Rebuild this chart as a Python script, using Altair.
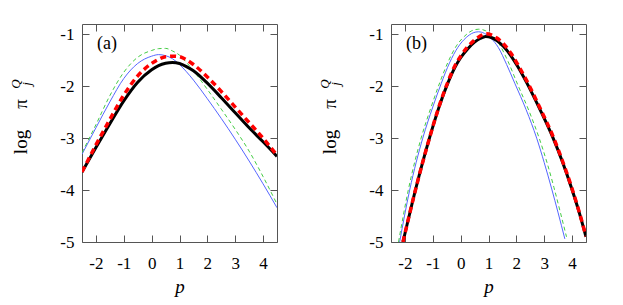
import altair as alt
import pandas as pd

FONT = "'Liberation Serif', 'Times New Roman', Times, serif"

# ---------------- Panel (a) ----------------
P_A = [-2.5, -2.0, -1.5, -1.0, -0.5, 0.0, 0.25, 0.5, 0.75, 1.0, 1.25, 1.5, 2.0, 2.5, 3.0, 3.5, 4.0, 4.5]
A_BLACK = [-3.65, -3.18, -2.72, -2.28, -1.92, -1.68, -1.60, -1.555, -1.54, -1.56, -1.62, -1.70, -1.94, -2.22, -2.51, -2.80, -3.07, -3.35]
A_RED = [-3.65, -3.13, -2.64, -2.17, -1.80, -1.56, -1.48, -1.43, -1.42, -1.43, -1.49, -1.58, -1.82, -2.10, -2.40, -2.70, -3.00, -3.33]
A_BLUE = [-3.31, -2.80, -2.30, -1.85, -1.56, -1.42, -1.39, -1.41, -1.47, -1.58, -1.72, -1.88, -2.24, -2.62, -3.02, -3.44, -3.88, -4.34]
A_GREEN = [-3.28, -2.74, -2.18, -1.73, -1.44, -1.31, -1.275, -1.27, -1.32, -1.40, -1.54, -1.70, -2.06, -2.44, -2.83, -3.25, -3.74, -4.27]

# ---------------- Panel (b) ----------------
B_BLACK_P = [-2.07, -1.6, -1.12, -0.8, -0.46, -0.2, 0.0, 0.25, 0.5, 0.7, 0.9, 1.1, 1.3, 1.55, 1.8, 2.05, 2.37, 2.85, 3.32, 3.65, 3.98, 4.25, 4.5]
B_BLACK_V = [-5.0, -3.95, -3.0, -2.44, -1.94, -1.63, -1.45, -1.28, -1.15, -1.08, -1.04, -1.06, -1.12, -1.24, -1.41, -1.62, -1.93, -2.45, -3.0, -3.45, -3.96, -4.42, -4.9]
B_RED_V = [-5.0, -3.95, -3.0, -2.43, -1.92, -1.60, -1.42, -1.24, -1.11, -1.03, -0.99, -1.01, -1.07, -1.19, -1.36, -1.58, -1.89, -2.42, -2.97, -3.43, -3.94, -4.41, -4.89]
B_BLUE_P = [-2.19, -1.83, -1.36, -1.0, -0.70, -0.4, -0.1, 0.2, 0.45, 0.64, 0.85, 1.1, 1.35, 1.65, 1.95, 2.35, 2.73, 3.0, 3.26, 3.5, 3.74]
B_BLUE_V = [-5.0, -4.0, -3.0, -2.40, -1.95, -1.55, -1.25, -1.06, -0.97, -0.95, -0.98, -1.08, -1.25, -1.58, -1.95, -2.45, -3.0, -3.47, -3.96, -4.44, -4.94]
B_GREEN_P = [-2.23, -1.88, -1.42, -1.06, -0.75, -0.45, -0.15, 0.15, 0.4, 0.65, 0.9, 1.15, 1.4, 1.7, 2.05, 2.45, 2.82, 3.1, 3.35, 3.58, 3.8]
B_GREEN_V = [-5.0, -4.0, -3.0, -2.40, -1.93, -1.53, -1.22, -1.03, -0.93, -0.90, -0.93, -1.02, -1.20, -1.52, -1.97, -2.47, -3.0, -3.47, -3.95, -4.43, -4.9]

X_TICKS = [-2, -1, 0, 1, 2, 3, 4]
Y_TICKS = [-5, -4, -3, -2, -1]
X_DOMAIN = [-2.5, 4.5]
Y_DOMAIN = [-5.0, -0.8]

FRAME = "#555555"
W, H = 195, 218

x_scale = alt.Scale(domain=X_DOMAIN, nice=False, zero=False)
y_scale = alt.Scale(domain=Y_DOMAIN, nice=False, zero=False)

ax_bottom = alt.Axis(orient="bottom", values=X_TICKS, offset=-7, tickSize=7, domain=False, grid=False,
                     tickColor=FRAME, labelFont=FONT, labelFontSize=17, labelColor="black",
                     labelPadding=13, labelExpr="'' + datum.value", labelFlush=False,
                     title="p", titleFont=FONT, titleFontSize=19, titleFontStyle="italic",
                     titleFontWeight="normal", titleColor="black", titlePadding=6)
ax_left = alt.Axis(orient="left", values=Y_TICKS, offset=-7, tickSize=7, domain=False, grid=False,
                   tickColor=FRAME, labelFont=FONT, labelFontSize=17, labelColor="black",
                   labelPadding=8, labelExpr="'' + datum.value", labelFlush=False, title=None)
ax_top = alt.Axis(orient="top", values=X_TICKS, offset=-7, tickSize=7, domain=False, grid=False,
                  tickColor=FRAME, labels=False, title=None)
ax_right = alt.Axis(orient="right", values=Y_TICKS, offset=-7, tickSize=7, domain=False, grid=False,
                    tickColor=FRAME, labels=False, title=None)


def line_layer(ps, vs, color, width, dash=None, axes=False):
    df = pd.DataFrame({"p": ps, "v": vs})
    kw = dict(color=color, strokeWidth=width, interpolate="monotone", clip=True)
    if dash:
        kw["strokeDash"] = dash
    return alt.Chart(df).mark_line(**kw).encode(
        x=alt.X("p:Q", scale=x_scale, axis=ax_bottom if axes else None),
        y=alt.Y("v:Q", scale=y_scale, axis=ax_left if axes else None),
    )


def text_layer(t, x, y, size, style="normal", angle=0, align="left", baseline="middle"):
    kw = dict(font=FONT, fontSize=size, fontStyle=style, color="black", align=align, baseline=baseline)
    if angle:
        kw["angle"] = angle
    return alt.Chart(pd.DataFrame({"t": [t]})).mark_text(**kw).encode(
        x=alt.value(x), y=alt.value(y), text="t:N")


def panel(series, label):
    mirror = alt.Chart(pd.DataFrame({"p": X_DOMAIN, "v": Y_DOMAIN})).mark_point(opacity=0).encode(
        x=alt.X("p:Q", scale=x_scale, axis=ax_top),
        y=alt.Y("v:Q", scale=y_scale, axis=ax_right),
    )
    layers = [mirror]
    first = True
    for s in series:
        layers.append(line_layer(*s, axes=first))
        first = False
    layers += [
        text_layer("log", -55, 118, 19, angle=270, align="center", baseline="alphabetic"),
        text_layer("π", -55, 80, 19, angle=270, align="center", baseline="alphabetic"),
        text_layer("Q", -62, 60, 13, style="italic", angle=270, align="center", baseline="alphabetic"),
        text_layer("j", -51, 60, 13, style="italic", angle=270, align="center", baseline="alphabetic"),
        text_layer(label, 15, 20, 18),
    ]
    return alt.layer(*layers).resolve_axis(x="independent", y="independent").properties(width=W, height=H)


series_a = [
    (P_A, A_BLUE, "#5566ff", 1),
    (P_A, A_GREEN, "#44cc44", 1, [4, 3]),
    (P_A, A_BLACK, "black", 3),
    (P_A, A_RED, "#ff0000", 3.5, [6, 4]),
]
series_b = [
    (B_BLUE_P, B_BLUE_V, "#5566ff", 1),
    (B_GREEN_P, B_GREEN_V, "#44cc44", 1, [4, 3]),
    (B_BLACK_P, B_BLACK_V, "black", 3),
    (B_BLACK_P, B_RED_V, "#ff0000", 3.5, [6, 4]),
]

chart = alt.hconcat(panel(series_a, "(a)"), panel(series_b, "(b)"), spacing=37).properties(
    padding={"left": 1, "top": 12, "right": 5, "bottom": 0}
).configure_view(stroke=FRAME, strokeWidth=1)

chart.save("out.html", embed_options={"renderer": "svg", "actions": False})
